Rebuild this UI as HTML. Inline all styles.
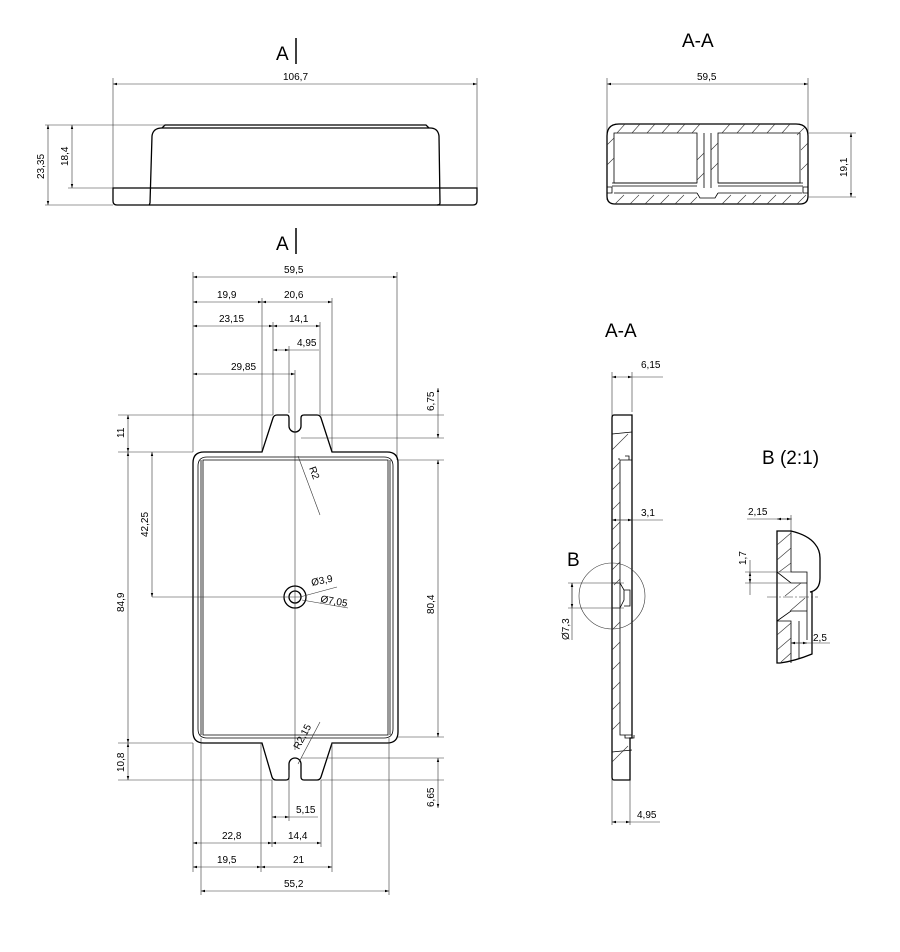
<!DOCTYPE html>
<html><head><meta charset="utf-8"><style>
html,body{margin:0;padding:0;background:#fff;}
svg{display:block;font-family:"Liberation Sans",sans-serif;}
.o{fill:none;stroke:#000;stroke-width:1.3;}
.t{fill:none;stroke:#000;stroke-width:0.8;}
.d{fill:none;stroke:#333;stroke-width:0.6;}
.h{fill:none;stroke:#333;stroke-width:0.6;}
text{font-size:10px;fill:#000;}
.big{font-size:19px;}
</style></head><body>
<svg width="900" height="952" viewBox="0 0 900 952">
<defs>
<marker id="a" viewBox="0 0 10 10" refX="10" refY="5" markerWidth="7" markerHeight="7" orient="auto-start-reverse"><path d="M0,2 L10,5 L0,8 z" fill="#000"/></marker>
</defs>

<!-- ========== TOP SIDE VIEW ========== -->
<text class="big" x="276" y="60">A</text>
<line x1="296" y1="38" x2="296" y2="64" stroke="#000" stroke-width="1.5"/>
<text x="283" y="80">106,7</text>
<line class="d" x1="113" y1="84" x2="477" y2="84" marker-start="url(#a)" marker-end="url(#a)"/>
<line class="d" x1="113" y1="78" x2="113" y2="188"/>
<line class="d" x1="477" y1="78" x2="477" y2="188"/>
<path class="o" d="M113,188 H477 V201 Q477,205 473,205 H117 Q113,205 113,201 Z"/>
<path class="o" d="M150,205 Q149,205 150,203 L152,136 Q153,128 162,128 H430 Q438,128 439,136 L440,203 Q440,205 437,205"/>
<path class="o" d="M162,128 L165,125 H426 L429,128"/>
<line class="d" x1="45" y1="125" x2="165" y2="125"/>
<line class="d" x1="45" y1="205" x2="113" y2="205"/>
<line class="d" x1="68" y1="188" x2="113" y2="188"/>
<line class="d" x1="48" y1="125" x2="48" y2="205" marker-start="url(#a)" marker-end="url(#a)"/>
<line class="d" x1="72" y1="125" x2="72" y2="188" marker-start="url(#a)" marker-end="url(#a)"/>
<text x="0" y="0" transform="translate(44,179) rotate(-90)">23,35</text>
<text x="0" y="0" transform="translate(68,166) rotate(-90)">18,4</text>

<!-- ========== TOP SECTION A-A ========== -->
<text class="big" x="682" y="47">A-A</text>
<text x="697" y="80">59,5</text>
<line class="d" x1="607" y1="84" x2="808" y2="84" marker-start="url(#a)" marker-end="url(#a)"/>
<line class="d" x1="607" y1="78" x2="607" y2="200"/>
<line class="d" x1="808" y1="78" x2="808" y2="132"/>
<path class="o" d="M619,124 H796 Q808,124 808,136 V196 Q808,204 800,204 H615 Q607,204 607,196 V136 Q607,124 619,124 Z"/>
<path class="t" d="M614,133 H697 V183 H614 Z M718,133 H800 V183 H718 Z"/>
<path class="t" d="M704,133 V188 M711,133 V188"/>
<path class="t" d="M612,183 H697 M612,186 H697 M718,183 H803 M718,186 H803 M614,193 H697 M718,193 H802"/>
<path class="t" d="M607,187 H612 V193 H607 M808,187 H803 V193 H808"/>
<path class="t" d="M697,193 L700,198 H715 L718,193"/>
<g class="h">
<path d="M625,124 L617,133 M640,124 L632,133 M655,124 L647,133 M670,124 L662,133 M685,124 L677,133 M700,124 L692,133 M730,124 L722,133 M745,124 L737,133 M760,124 L752,133 M775,124 L767,133 M790,124 L782,133 M805,127 L797,135"/>
<path d="M615,204 L624,195 M630,204 L639,195 M645,204 L654,195 M660,204 L669,195 M675,204 L684,195 M690,204 L697,197 M722,204 L731,195 M737,204 L746,195 M752,204 L761,195 M767,204 L776,195 M782,204 L791,195 M797,204 L806,195"/>
<path d="M607,145 L614,138 M607,165 L614,158 M801,150 L808,143 M801,170 L808,163 M697,160 L704,153 M711,150 L718,143 M697,180 L704,173 M711,170 L718,163"/>
</g>
<line class="d" x1="808" y1="133" x2="856" y2="133"/>
<line class="d" x1="808" y1="197" x2="856" y2="197"/>
<line class="d" x1="851" y1="133" x2="851" y2="197" marker-start="url(#a)" marker-end="url(#a)"/>
<text transform="translate(847,177) rotate(-90)">19,1</text>

<!-- ========== PLAN VIEW ========== -->
<text class="big" x="276" y="250">A</text>
<line x1="296" y1="228" x2="296" y2="254" stroke="#000" stroke-width="1.5"/>
<text x="284" y="273">59,5</text>
<line class="d" x1="193" y1="277" x2="397" y2="277" marker-start="url(#a)" marker-end="url(#a)"/>
<line class="d" x1="397" y1="272" x2="397" y2="460"/>
<line class="d" x1="193" y1="272" x2="193" y2="452"/>
<text x="217" y="298">19,9</text><text x="284" y="298">20,6</text>
<line class="d" x1="193" y1="302" x2="262" y2="302" marker-start="url(#a)" marker-end="url(#a)"/>
<line class="d" x1="262" y1="302" x2="332" y2="302" marker-start="url(#a)" marker-end="url(#a)"/>
<line class="d" x1="262" y1="298" x2="262" y2="452"/>
<line class="d" x1="332" y1="298" x2="332" y2="452"/>
<text x="219" y="322">23,15</text><text x="289" y="322">14,1</text>
<line class="d" x1="193" y1="326" x2="273" y2="326" marker-start="url(#a)" marker-end="url(#a)"/>
<line class="d" x1="273" y1="326" x2="320" y2="326" marker-start="url(#a)" marker-end="url(#a)"/>
<line class="d" x1="273" y1="322" x2="273" y2="415"/>
<line class="d" x1="320" y1="322" x2="320" y2="415"/>
<text x="297" y="346">4,95</text>
<line class="d" x1="273" y1="350" x2="289" y2="350" marker-start="url(#a)" marker-end="url(#a)"/>
<line class="d" x1="289" y1="350" x2="319" y2="350"/>
<line class="d" x1="289" y1="346" x2="289" y2="413"/>
<text x="231" y="370">29,85</text>
<line class="d" x1="193" y1="374" x2="295" y2="374" marker-start="url(#a)" marker-end="url(#a)"/>
<line class="d" x1="295" y1="370" x2="295" y2="750"/>

<!-- outline -->
<path class="o" d="M204,452 H262 L273,418 Q274,415 277,415 H287 Q289,415 289,418 V426 A6,6 0 0 0 301,426 V418 Q301,415 304,415 H317 Q320,415 321,418 L332,452 H387 Q398,452 398,463 V732 Q398,743 387,743 H332 L321,777 Q320,780 317,780 H304 Q301,780 301,777 V764 A6,6 0 0 0 289,764 V777 Q289,780 286,780 H276 Q273,780 272,777 L262,743 H204 Q193,743 193,732 V463 Q193,452 204,452 Z"/>
<path class="t" d="M207,457 H384 Q393,457 393,466 V729 Q393,738 384,738 H207 Q198,738 198,729 V466 Q198,457 207,457 Z"/>
<path class="t" d="M203,460 H388 V735 H203 Z"/>
<line class="t" x1="201" y1="460" x2="201" y2="735"/>
<line class="t" x1="390" y1="460" x2="390" y2="735"/>
<!-- hole -->
<circle class="o" cx="295" cy="597" r="11"/>
<circle class="o" cx="295" cy="597" r="6"/>
<line class="d" x1="152" y1="597" x2="302" y2="597"/>
<line class="d" x1="300" y1="597" x2="337" y2="587"/>
<line class="d" x1="302" y1="600" x2="348" y2="608"/>
<text transform="translate(312,586) rotate(-12)">Ø3,9</text>
<text transform="translate(320,602) rotate(10)">Ø7,05</text>
<line class="d" x1="298" y1="456" x2="320" y2="515"/>
<text transform="translate(309,468) rotate(70)">R2</text>
<line class="d" x1="298" y1="764" x2="320" y2="722"/>
<text transform="translate(299,750) rotate(-62)">R2,15</text>

<!-- left dims -->
<line class="d" x1="118" y1="415" x2="273" y2="415"/>
<line class="d" x1="118" y1="452" x2="193" y2="452"/>
<line class="d" x1="118" y1="743" x2="193" y2="743"/>
<line class="d" x1="118" y1="780" x2="272" y2="780"/>
<line class="d" x1="128" y1="415" x2="128" y2="452" marker-start="url(#a)" marker-end="url(#a)"/>
<line class="d" x1="128" y1="452" x2="128" y2="743" marker-start="url(#a)" marker-end="url(#a)"/>
<line class="d" x1="128" y1="743" x2="128" y2="780" marker-start="url(#a)" marker-end="url(#a)"/>
<line class="d" x1="152" y1="452" x2="152" y2="597" marker-start="url(#a)" marker-end="url(#a)"/>
<text transform="translate(124,438) rotate(-90)">11</text>
<text transform="translate(124,612) rotate(-90)">84,9</text>
<text transform="translate(148,537) rotate(-90)">42,25</text>
<text transform="translate(124,772) rotate(-90)">10,8</text>
<!-- right dims -->
<line class="d" x1="320" y1="415" x2="444" y2="415"/>
<line class="d" x1="301" y1="438" x2="444" y2="438"/>
<line class="d" x1="398" y1="460" x2="444" y2="460"/>
<line class="d" x1="398" y1="737" x2="444" y2="737"/>
<line class="d" x1="301" y1="758" x2="444" y2="758"/>
<line class="d" x1="321" y1="780" x2="444" y2="780"/>
<line class="d" x1="438" y1="388" x2="438" y2="438" marker-start="url(#a)" marker-end="url(#a)"/>
<line class="d" x1="438" y1="460" x2="438" y2="737" marker-start="url(#a)" marker-end="url(#a)"/>
<line class="d" x1="438" y1="758" x2="438" y2="808" marker-start="url(#a)" marker-end="url(#a)"/>
<text transform="translate(434,411) rotate(-90)">6,75</text>
<text transform="translate(434,614) rotate(-90)">80,4</text>
<text transform="translate(434,807) rotate(-90)">6,65</text>
<!-- bottom dims -->
<line class="d" x1="193" y1="743" x2="193" y2="872"/>
<line class="d" x1="201" y1="738" x2="201" y2="895"/>
<line class="d" x1="389" y1="738" x2="389" y2="895"/>
<line class="d" x1="272" y1="780" x2="272" y2="847"/>
<line class="d" x1="289" y1="770" x2="289" y2="821"/>
<line class="d" x1="321" y1="780" x2="321" y2="847"/>
<line class="d" x1="261" y1="743" x2="261" y2="872"/>
<line class="d" x1="332" y1="743" x2="332" y2="872"/>
<text x="296" y="813">5,15</text>
<line class="d" x1="272" y1="817" x2="289" y2="817" marker-start="url(#a)" marker-end="url(#a)"/>
<line class="d" x1="289" y1="817" x2="318" y2="817"/>
<text x="222" y="839">22,8</text><text x="288" y="839">14,4</text>
<line class="d" x1="193" y1="843" x2="272" y2="843" marker-start="url(#a)" marker-end="url(#a)"/>
<line class="d" x1="272" y1="843" x2="321" y2="843" marker-start="url(#a)" marker-end="url(#a)"/>
<text x="217" y="863">19,5</text><text x="293" y="863">21</text>
<line class="d" x1="193" y1="867" x2="261" y2="867" marker-start="url(#a)" marker-end="url(#a)"/>
<line class="d" x1="261" y1="867" x2="332" y2="867" marker-start="url(#a)" marker-end="url(#a)"/>
<text x="284" y="887">55,2</text>
<line class="d" x1="201" y1="891" x2="389" y2="891" marker-start="url(#a)" marker-end="url(#a)"/>

<!-- ========== SIDE SECTION A-A ========== -->
<text class="big" x="605" y="337">A-A</text>
<text x="641" y="368">6,15</text>
<line class="d" x1="612" y1="372" x2="612" y2="825"/>
<line class="d" x1="632" y1="372" x2="632" y2="412"/>
<line class="d" x1="612" y1="377" x2="632" y2="377" marker-start="url(#a)" marker-end="url(#a)"/>
<line class="d" x1="632" y1="377" x2="663" y2="377"/>
<path class="o" d="M614,415 H632 V738 H630 V780 H614 Q612,780 612,777 V418 Q612,415 614,415 Z"/>
<path class="t" d="M620,460 H632 V735 H620 Z M619,458 V460 M625,456 H629 V460 M625,735 V738 H634 V735"/>
<path class="t" d="M612,434 L632,432 M612,752 L632,750 M612,583 H620 L624,590 V600 L620,608 H612"/>
<path class="t" d="M624,590 H630 V606 H624"/>
<g class="h">
<path d="M612,450 L628,434 M612,470 L620,462 M612,490 L620,482 M612,510 L620,502 M612,530 L620,522 M612,550 L620,542 M612,570 L620,562 M612,630 L620,622 M612,650 L620,642 M612,670 L620,662 M612,690 L620,682 M612,710 L620,702 M612,730 L620,722 M612,762 L628,746 M614,585 L620,579"/>
</g>
<line class="d" x1="612" y1="520" x2="663" y2="520"/>
<text x="641" y="516">3,1</text>
<line class="d" x1="612" y1="520" x2="632" y2="520" marker-start="url(#a)" marker-end="url(#a)"/>
<circle class="d" cx="612" cy="596" r="33"/>
<text class="big" x="567" y="566">B</text>
<line class="d" x1="568" y1="583" x2="624" y2="583"/>
<line class="d" x1="568" y1="608" x2="624" y2="608"/>
<line class="d" x1="572" y1="583" x2="572" y2="640" marker-start="url(#a)"/>
<line class="d" x1="572" y1="583" x2="572" y2="608" marker-start="url(#a)" marker-end="url(#a)"/>
<text transform="translate(569,640) rotate(-90)">Ø7,3</text>
<line class="d" x1="630" y1="780" x2="630" y2="825"/>
<line class="d" x1="612" y1="822" x2="630" y2="822" marker-start="url(#a)" marker-end="url(#a)"/>
<line class="d" x1="630" y1="822" x2="660" y2="822"/>
<text x="637" y="818">4,95</text>

<!-- ========== DETAIL B ========== -->
<text class="big" x="762" y="464">B (2:1)</text>
<text x="748" y="515">2,15</text>
<line class="d" x1="747" y1="519" x2="792" y2="519"/>
<line class="d" x1="777" y1="519" x2="791" y2="519" marker-start="url(#a)" marker-end="url(#a)"/>
<line class="d" x1="791" y1="515" x2="791" y2="531"/>
<path class="o" d="M777,531 H791 Q808,535 815,544 Q820,550 820,558 V578 Q820,590 810,592 H812 V654 Q795,661 780,663 H777 Z"/>
<path class="t" d="M791,531 V572 H807 V592 M777,572 L791,583 H807 M777,621 L791,611 H807 M777,621 H791 V663 M799,621 V659 M807,583 V640"/>
<line class="d" x1="767" y1="597" x2="818" y2="597" stroke-dasharray="10,2,2,2"/>
<g class="h">
<path d="M777,545 L791,533 M777,560 L791,548 M779,572 L791,563 M785,596 L801,583 M790,611 L805,598 M777,635 L791,623 M777,650 L791,638 M781,662 L791,653"/>
</g>
<line class="d" x1="745" y1="572" x2="791" y2="572"/>
<line class="d" x1="745" y1="583" x2="791" y2="583"/>
<line class="d" x1="750" y1="560" x2="750" y2="595"/>
<line class="d" x1="750" y1="572" x2="750" y2="583" marker-start="url(#a)" marker-end="url(#a)"/>
<text transform="translate(746,565) rotate(-90)">1,7</text>
<text x="813" y="641">2,5</text>
<line class="d" x1="791" y1="643" x2="830" y2="643"/>
<line class="d" x1="791" y1="643" x2="807" y2="643" marker-start="url(#a)" marker-end="url(#a)"/>
</svg>
</body></html>
